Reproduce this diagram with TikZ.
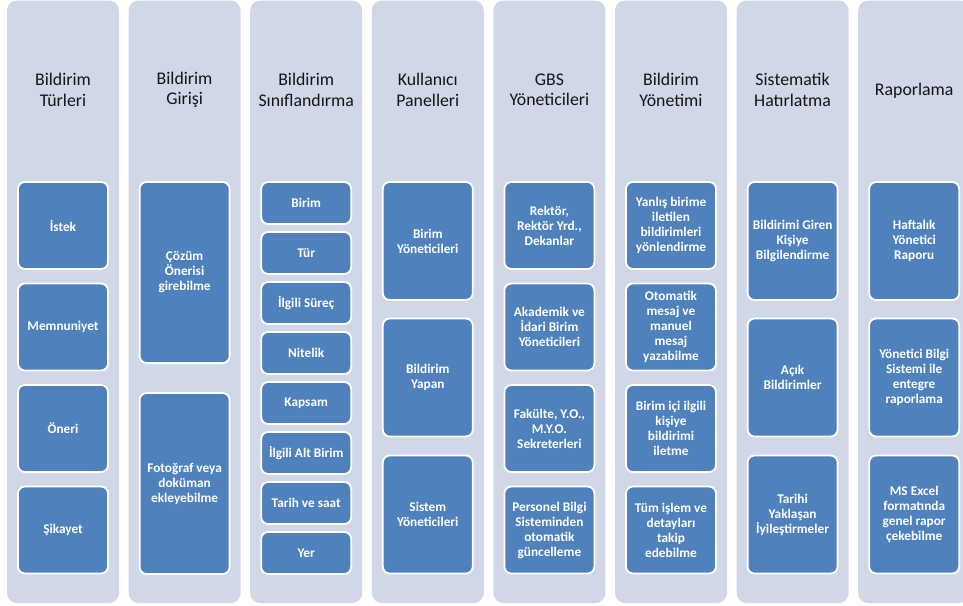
\documentclass[tikz,border=0pt]{standalone}
\usepackage{fontspec}
\setmainfont{Carlito}
\definecolor{colbg}{HTML}{D0D8E8}
\definecolor{boxblue}{HTML}{4F81BD}
\begin{document}
\begin{tikzpicture}[x=1pt,y=-1pt,
  colshape/.style={fill=colbg, draw=none, rounded corners=10pt},
  coltitle/.style={text=black!92, font=\fontsize{17.8}{20.5}\selectfont, align=center, inner sep=0pt},
  bx/.style={fill=boxblue, draw=white, line width=1.8pt, rounded corners=7pt, text=white,
    font=\bfseries\fontsize{13.3}{15}\selectfont, align=center, minimum width=90pt, inner sep=0pt},
  bxA/.style={bx, minimum height=87pt},
  bxB/.style={bx, minimum height=118pt},
  bxC/.style={bx, minimum height=181pt},
  bxD/.style={bx, minimum height=42pt}
]
\useasboundingbox (0,0) rectangle (963,605);
\fill[white] (0,0) rectangle (963,605);
\clip (0,0) rectangle (963,605);
% columns
\foreach \i in {0,...,7}{
  \path[colshape] (7+121.6*\i,0.5) rectangle ++(112,602.5);
}
% titles
\node[coltitle] (t1) at (63,90) {Bildirim\\Türleri};
\node[coltitle] (t2) at (184.6,90) {Bildirim\\Girişi};
\node[coltitle] (t3) at (306.2,90) {Bildirim\\Sınıflandırma};
\node[coltitle] (t4) at (427.8,90) {Kullanıcı\\Panelleri};
\node[coltitle] (t5) at (549.4,90) {GBS\\Yöneticileri};
\node[coltitle] (t6) at (671,90) {Bildirim\\Yönetimi};
\node[coltitle] (t7) at (792.6,90) {Sistematik\\Hatırlatma};
\node[coltitle] (t8) at (914.2,91) {Raporlama};
% column 1
\node[bxA] (a1) at (63,225.5) {İstek};
\node[bxA] (a2) at (63,327) {Memnuniyet};
\node[bxA] (a3) at (63,428.5) {Öneri};
\node[bxA] (a4) at (63,530) {Şikayet};
% column 2
\node[bxC] (b1) at (184.6,272.5) {Çözüm\\Önerisi\\girebilme};
\node[bxC] (b2) at (184.6,483.5) {Fotoğraf veya\\doküman\\ekleyebilme};
% column 3
\node[bxD] (c1) at (306.2,203) {Birim};
\node[bxD] (c2) at (306.2,253) {Tür};
\node[bxD] (c3) at (306.2,303) {İlgili Süreç};
\node[bxD] (c4) at (306.2,353) {Nitelik};
\node[bxD] (c5) at (306.2,403) {Kapsam};
\node[bxD] (c6) at (306.2,453) {İlgili Alt Birim};
\node[bxD] (c7) at (306.2,503) {Tarih ve saat};
\node[bxD] (c8) at (306.2,553) {Yer};
% column 4
\node[bxB] (d1) at (427.8,241) {Birim\\Yöneticileri};
\node[bxB] (d2) at (427.8,377.5) {Bildirim\\Yapan};
\node[bxB] (d3) at (427.8,514.5) {Sistem\\Yöneticileri};
% column 5
\node[bxA] (e1) at (549.4,225.5) {Rektör,\\Rektör Yrd.,\\Dekanlar};
\node[bxA] (e2) at (549.4,327) {Akademik ve\\İdari Birim\\Yöneticileri};
\node[bxA] (e3) at (549.4,428.5) {Fakülte, Y.O.,\\M.Y.O.\\Sekreterleri};
\node[bxA] (e4) at (549.4,530) {Personel Bilgi\\Sisteminden\\otomatik\\güncelleme};
% column 6
\node[bxA] (f1) at (671,225.5) {Yanlış birime\\iletilen\\bildirimleri\\yönlendirme};
\node[bxA] (f2) at (671,327) {Otomatik\\mesaj ve\\manuel\\mesaj\\yazabilme};
\node[bxA] (f3) at (671,428.5) {Birim içi ilgili\\kişiye\\bildirimi\\iletme};
\node[bxA] (f4) at (671,530) {Tüm işlem ve\\detayları\\takip\\edebilme};
% column 7
\node[bxB] (g1) at (792.6,241) {Bildirimi Giren\\Kişiye\\Bilgilendirme};
\node[bxB] (g2) at (792.6,377.5) {Açık\\Bildirimler};
\node[bxB] (g3) at (792.6,514.5) {Tarihi\\Yaklaşan\\İyileştirmeler};
% column 8
\node[bxB] (h1) at (914.2,241) {Haftalık\\Yönetici\\Raporu};
\node[bxB] (h2) at (914.2,377.5) {Yönetici Bilgi\\Sistemi ile\\entegre\\raporlama};
\node[bxB] (h3) at (914.2,514.5) {MS Excel\\formatında\\genel rapor\\çekebilme};
\end{tikzpicture}
\end{document}
